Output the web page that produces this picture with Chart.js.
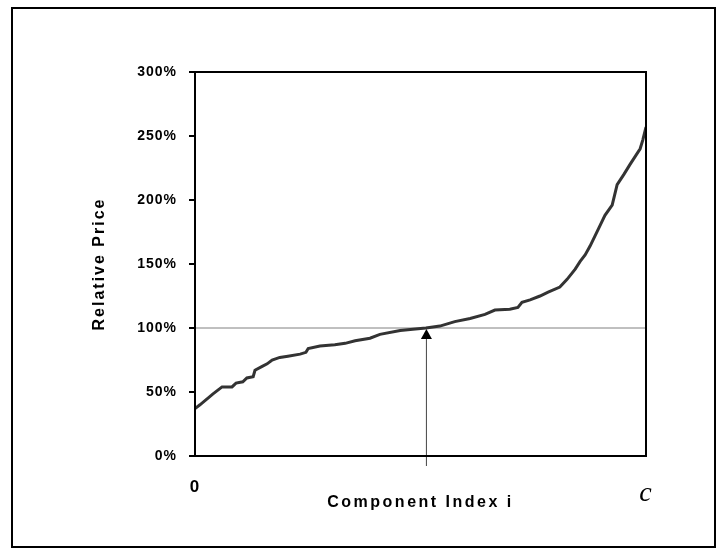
<!DOCTYPE html>
<html>
<head>
<meta charset="utf-8">
<script src="https://cdn.jsdelivr.net/npm/chart.js@4.4.0/dist/chart.umd.min.js"></script>
<style>
  body { margin: 0; background: #fff; }
  #wrap { position: relative; width: 717px; height: 550px; }
  #frame { position: absolute; left: 11px; top: 7px; width: 701px; height: 537px; border: 2px solid #000; }
  canvas { position: absolute; left: 0; top: 0; }
</style>
</head>
<body>
<div id="wrap">
  <div id="frame"></div>
  <canvas id="chart" width="717" height="550"></canvas>
</div>
<script>
// component index, 0 .. c (as percent of c)
const componentIndex = [0, 1.1, 4.0, 6.0, 8.2, 9.1, 10.6, 11.5, 12.9, 13.3, 14.9, 16.0, 17.1, 18.8, 20.6,
  23.3, 24.6, 25.1, 27.7, 31.0, 33.3, 35.5, 38.8, 41.0, 45.5, 48.3, 51.2, 54.3, 57.6, 61.0, 64.3,
  66.5, 69.8, 71.6, 72.5, 74.3, 76.5, 78.3, 80.9, 82.5, 84.3, 85.4, 86.5, 87.6, 88.7, 89.8, 90.9,
  92.5, 93.6, 95.1, 96.5, 98.7, 99.3, 100];
// relative price, percent
const relativePrice = [37, 40, 48.5, 54, 54, 57, 58, 61, 62, 67, 70, 72, 75, 77, 78,
  79.6, 81, 84, 86, 87, 88, 90, 92, 95, 98, 99, 100, 101.5, 105, 107.4, 110.6,
  114, 114.6, 116, 120, 122, 125, 128, 132, 138, 146, 152, 157, 164, 172, 180, 188,
  196, 212, 220, 228, 240, 247, 257];
const yTicks = [0, 50, 100, 150, 200, 250, 300];
const xTickLabels = ['0', 'c'];
const referenceLevel = 100;
const medianIndex = 51.2;

// titles are spaced out wider than the tick labels
function spaceTitle(scale, spacing) {
  if (scale._spaced) return;
  const orig = scale.drawTitle;
  scale.drawTitle = function () {
    const prev = this.ctx.letterSpacing;
    this.ctx.letterSpacing = spacing;
    orig.apply(this, arguments);
    this.ctx.letterSpacing = prev;
  };
  scale._spaced = true;
}

const frameBox = {
  id: 'frameBox',
  beforeDraw(chart) {
    chart.ctx.letterSpacing = '1px';
    spaceTitle(chart.scales.x, '2.5px');
    spaceTitle(chart.scales.y, '2px');
  },
  afterDatasetsDraw(chart) {
    const { ctx, chartArea: a, scales } = chart;
    const x = scales.x.getPixelForValue(medianIndex);
    const yTop = scales.y.getPixelForValue(referenceLevel);
    ctx.save();
    // arrow to the median component
    ctx.strokeStyle = '#444';
    ctx.lineWidth = 1;
    ctx.beginPath();
    ctx.moveTo(x + 0.5, a.bottom + 10);
    ctx.lineTo(x + 0.5, yTop + 8);
    ctx.stroke();
    ctx.fillStyle = '#000';
    ctx.beginPath();
    ctx.moveTo(x + 0.5, yTop + 1);
    ctx.lineTo(x - 5, yTop + 11);
    ctx.lineTo(x + 6, yTop + 11);
    ctx.closePath();
    ctx.fill();
    // plot box
    ctx.strokeStyle = '#000';
    ctx.lineWidth = 2;
    ctx.strokeRect(a.left, a.top, a.right - a.left, a.bottom - a.top);
    ctx.restore();
  }
};

const tickFont = { family: 'Arial, "Liberation Sans", sans-serif', size: 14, weight: 'bold' };
const titleFont = { family: 'Arial, "Liberation Sans", sans-serif', size: 16, weight: 'bold' };

new Chart(document.getElementById('chart'), {
  type: 'scatter',
  data: {
    datasets: [{
      data: componentIndex.map((v, i) => ({ x: v, y: relativePrice[i] })),
      showLine: true,
      borderColor: '#333',
      borderWidth: 3,
      pointRadius: 0,
      tension: 0,
      order: 1
    }, {
      data: [{ x: 0, y: referenceLevel }, { x: 100, y: referenceLevel }],
      showLine: true,
      borderColor: '#808080',
      borderWidth: 1,
      pointRadius: 0,
      order: 2
    }]
  },
  options: {
    responsive: false,
    animation: false,
    layout: { padding: { left: 90, top: 72, right: 71, bottom: 34 } },
    plugins: { legend: { display: false }, tooltip: { enabled: false } },
    scales: {
      x: {
        type: 'linear',
        min: 0,
        max: 100,
        afterBuildTicks: s => { s.ticks = [{ value: 0 }, { value: 100 }]; },
        afterFit: s => { s.height = 60; },
        grid: { display: false },
        border: { display: true, color: '#000', width: 2 },
        ticks: {
          color: '#000',
          padding: 13,
          maxRotation: 0,
          autoSkip: false,
          callback: v => v === 0 ? xTickLabels[0] : xTickLabels[1],
          font: ctx => ctx.tick && ctx.tick.value === 100
            ? { family: '"Times New Roman", "Liberation Serif", serif', size: 28, style: 'italic' }
            : { family: 'Arial, "Liberation Sans", sans-serif', size: 17, weight: 'bold' }
        },
        title: {
          display: true,
          text: 'Component Index i',
          color: '#000',
          font: titleFont,
          padding: { top: 0, bottom: 4 }
        }
      },
      y: {
        min: 0,
        max: 300,
        afterBuildTicks: s => { s.ticks = yTicks.map(v => ({ value: v })); },
        afterFit: s => { s.width = 195 - 90; },
        grid: { drawOnChartArea: false, tickLength: 6, color: '#000', lineWidth: 2 },
        border: { display: true, color: '#000', width: 2 },
        ticks: {
          color: '#000',
          padding: 12,
          font: tickFont,
          callback: v => v + '%'
        },
        title: {
          display: true,
          text: 'Relative Price',
          color: '#000',
          font: titleFont,
          padding: { top: 0, bottom: 0 }
        }
      }
    }
  },
  plugins: [frameBox]
});
</script>
</body>
</html>
